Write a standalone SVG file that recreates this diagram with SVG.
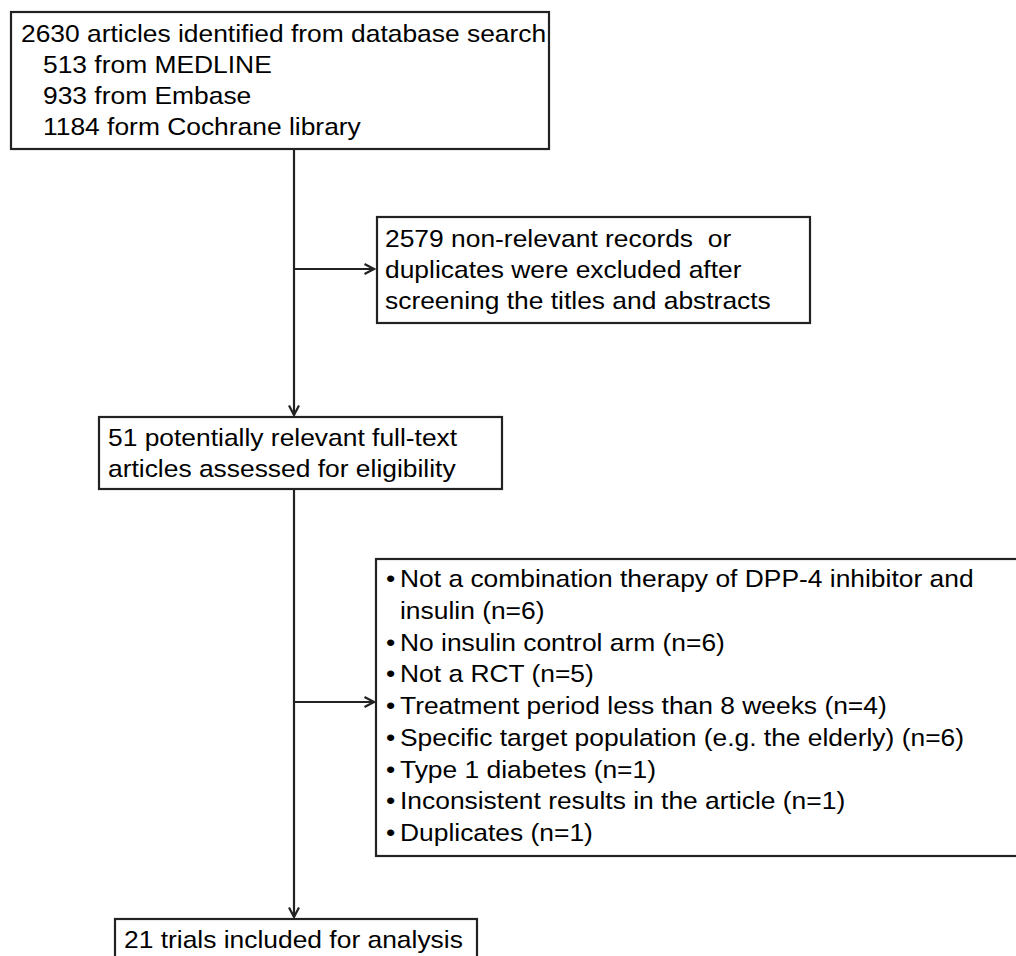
<svg xmlns="http://www.w3.org/2000/svg" width="1016" height="956" viewBox="0 0 1016 956">
<style>
.box{fill:#fff;stroke:#222;stroke-width:2.2}
.t{font-family:"Liberation Sans",Arial,Helvetica,sans-serif;font-size:24px;fill:#000}
.c{fill:none;stroke:#222;stroke-width:2.2}
</style>
<defs>
<marker id="arr" viewBox="0 0 12 12" refX="10.5" refY="6" markerWidth="12" markerHeight="12" markerUnits="userSpaceOnUse" orient="auto">
<path d="M1,1 L10.5,6 L1,11" fill="none" stroke="#222" stroke-width="2.2"/>
</marker>
</defs>
<rect x="0" y="0" width="1016" height="956" fill="#fff"/>
<g id="connectors">
<line class="c" x1="294" y1="149" x2="294" y2="415" marker-end="url(#arr)"/>
<line class="c" x1="294" y1="269" x2="374" y2="269" marker-end="url(#arr)"/>
<line class="c" x1="294" y1="489" x2="294" y2="917" marker-end="url(#arr)"/>
<line class="c" x1="294" y1="702" x2="374" y2="702" marker-end="url(#arr)"/>
</g>
<g id="identified">
<rect class="box" x="11" y="12" width="538" height="137"/>
<text class="t" transform="translate(21,42) scale(1.1,1)">2630 articles identified from database search</text>
<text class="t" transform="translate(43,73) scale(1.1,1)">513 from MEDLINE</text>
<text class="t" transform="translate(43,104) scale(1.1,1)">933 from Embase</text>
<text class="t" transform="translate(43,135) scale(1.1,1)">1184 form Cochrane library</text>
</g>
<g id="excluded1">
<rect class="box" x="377" y="217" width="433" height="106"/>
<text class="t" xml:space="preserve" transform="translate(385,247) scale(1.1,1)">2579 non-relevant records  or</text>
<text class="t" transform="translate(385,278) scale(1.1,1)">duplicates were excluded after</text>
<text class="t" transform="translate(385,309) scale(1.1,1)">screening the titles and abstracts</text>
</g>
<g id="fulltext">
<rect class="box" x="99" y="417" width="403" height="72"/>
<text class="t" transform="translate(108,446) scale(1.1,1)">51 potentially relevant full-text</text>
<text class="t" transform="translate(108,477) scale(1.1,1)">articles assessed for eligibility</text>
</g>
<g id="excluded2">
<rect class="box" x="376" y="559" width="660" height="297"/>
<text class="t" transform="translate(386,587) scale(1.1,1)">•</text>
<text class="t" transform="translate(400,587) scale(1.1,1)">Not a combination therapy of DPP-4 inhibitor and</text>
<text class="t" transform="translate(400,618.75) scale(1.1,1)">insulin (n=6)</text>
<text class="t" transform="translate(386,650.5) scale(1.1,1)">•</text>
<text class="t" transform="translate(400,650.5) scale(1.1,1)">No insulin control arm (n=6)</text>
<text class="t" transform="translate(386,682.25) scale(1.1,1)">•</text>
<text class="t" transform="translate(400,682.25) scale(1.1,1)">Not a RCT (n=5)</text>
<text class="t" transform="translate(386,714) scale(1.1,1)">•</text>
<text class="t" transform="translate(400,714) scale(1.1,1)">Treatment period less than 8 weeks (n=4)</text>
<text class="t" transform="translate(386,745.75) scale(1.1,1)">•</text>
<text class="t" transform="translate(400,745.75) scale(1.1,1)">Specific target population (e.g. the elderly) (n=6)</text>
<text class="t" transform="translate(386,777.5) scale(1.1,1)">•</text>
<text class="t" transform="translate(400,777.5) scale(1.1,1)">Type 1 diabetes (n=1)</text>
<text class="t" transform="translate(386,809.25) scale(1.1,1)">•</text>
<text class="t" transform="translate(400,809.25) scale(1.1,1)">Inconsistent results in the article (n=1)</text>
<text class="t" transform="translate(386,841) scale(1.1,1)">•</text>
<text class="t" transform="translate(400,841) scale(1.1,1)">Duplicates (n=1)</text>
</g>
<g id="included">
<rect class="box" x="115" y="919" width="362" height="60"/>
<text class="t" transform="translate(124,948) scale(1.1,1)">21 trials included for analysis</text>
</g>
</svg>
